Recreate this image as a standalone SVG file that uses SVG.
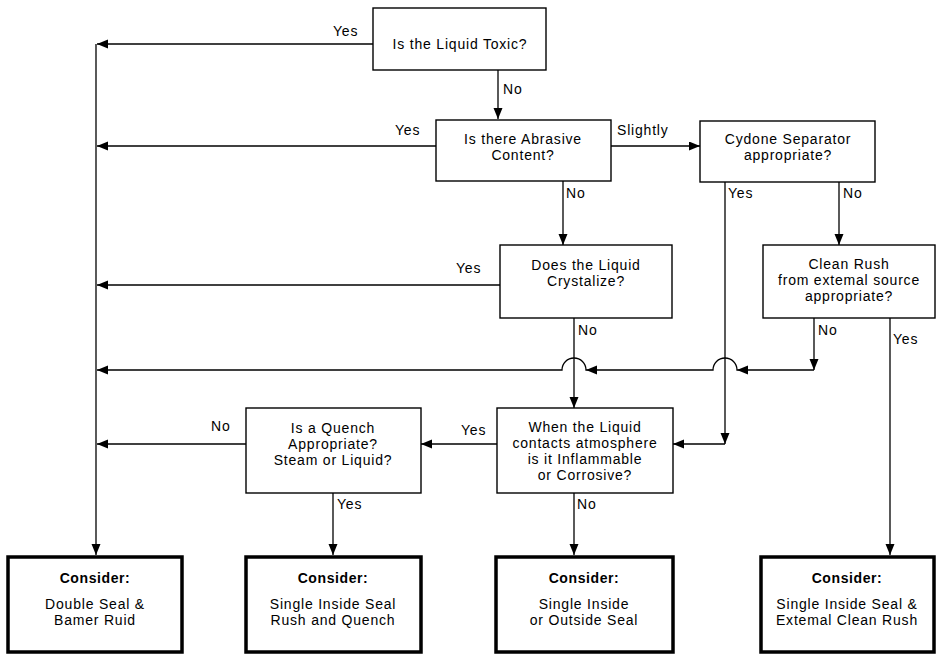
<svg xmlns="http://www.w3.org/2000/svg" width="941" height="656" viewBox="0 0 941 656">
<style>
  .box{fill:#fff;stroke:#000;stroke-width:1.4}
  .end{fill:#fff;stroke:#000;stroke-width:3.5}
  .t{font-family:"Liberation Sans",Arial,sans-serif;font-size:14px;fill:#000;text-anchor:middle;letter-spacing:0.8px}
  .b{font-weight:bold;letter-spacing:0.6px}
  .lbl{font-family:"Liberation Sans",Arial,sans-serif;font-size:14px;fill:#000;letter-spacing:0.8px}
  .c{fill:none;stroke:#000;stroke-width:1.3}
  .ah{fill:#000}
</style>
<defs>
  <marker id="arr" markerUnits="userSpaceOnUse" markerWidth="12" markerHeight="10" refX="11" refY="4.5" orient="auto">
    <path d="M0,0 L11,4.5 L0,9 Z" fill="#000"/>
  </marker>
</defs>
<rect width="941" height="656" fill="#fff"/>
<g id="connectors">
  <path class="c" d="M373,44 H97" marker-end="url(#arr)"/>
  <path class="c" d="M96,44 V555" marker-end="url(#arr)"/>
  <path class="c" d="M498,70 V119" marker-end="url(#arr)"/>
  <path class="c" d="M436,146 H97" marker-end="url(#arr)"/>
  <path class="c" d="M611,146 H700" marker-end="url(#arr)"/>
  <path class="c" d="M563,181 V245" marker-end="url(#arr)"/>
  <path class="c" d="M725,182 V444" marker-end="url(#arr)"/>
  <path class="c" d="M725,444 H673" marker-end="url(#arr)"/>
  <path class="c" d="M839,182 V245" marker-end="url(#arr)"/>
  <path class="c" d="M500,285 H97" marker-end="url(#arr)"/>
  <path class="c" d="M574,318 V408" marker-end="url(#arr)"/>
  <path class="c" d="M814,318 V370" marker-end="url(#arr)"/>
  <path class="c" d="M814,370 H737 A12,12 0 0 0 713,370 H586 A12,12 0 0 0 562,370 H97" marker-end="url(#arr)"/>
  <path class="ah" d="M737,370 L748,365.5 L748,374.5 Z"/>
  <path class="ah" d="M586,370 L597,365.5 L597,374.5 Z"/>
  <path class="c" d="M890,318 V555" marker-end="url(#arr)"/>
  <path class="c" d="M497,444 H421" marker-end="url(#arr)"/>
  <path class="c" d="M246,444 H97" marker-end="url(#arr)"/>
  <path class="c" d="M333,493 V555" marker-end="url(#arr)"/>
  <path class="c" d="M574,493 V555" marker-end="url(#arr)"/>
</g>
<g id="labels">
  <text class="lbl" x="333" y="36">Yes</text>
  <text class="lbl" x="503" y="94">No</text>
  <text class="lbl" x="395" y="135">Yes</text>
  <text class="lbl" x="617" y="135">Slightly</text>
  <text class="lbl" x="566" y="198">No</text>
  <text class="lbl" x="728" y="198">Yes</text>
  <text class="lbl" x="843" y="198">No</text>
  <text class="lbl" x="456" y="273">Yes</text>
  <text class="lbl" x="578" y="335">No</text>
  <text class="lbl" x="818" y="335">No</text>
  <text class="lbl" x="893" y="344">Yes</text>
  <text class="lbl" x="211" y="431">No</text>
  <text class="lbl" x="461" y="435">Yes</text>
  <text class="lbl" x="337" y="509">Yes</text>
  <text class="lbl" x="577" y="509">No</text>
</g>
<g id="toxic">
  <rect class="box" x="373" y="8" width="173" height="62"/>
  <text class="t" x="460" y="49">Is the Liquid Toxic?</text>
</g>
<g id="abrasive">
  <rect class="box" x="436" y="120" width="175" height="61"/>
  <text class="t" x="523" y="144">Is there Abrasive</text>
  <text class="t" x="523" y="160">Content?</text>
</g>
<g id="cyclone">
  <rect class="box" x="700" y="121" width="175" height="61"/>
  <text class="t" x="788" y="144">Cydone Separator</text>
  <text class="t" x="788" y="160">appropriate?</text>
</g>
<g id="crystalize">
  <rect class="box" x="500" y="245" width="172" height="73"/>
  <text class="t" x="586" y="270">Does the Liquid</text>
  <text class="t" x="586" y="286">Crystalize?</text>
</g>
<g id="flush">
  <rect class="box" x="763" y="245" width="172" height="73"/>
  <text class="t" x="849" y="269">Clean Rush</text>
  <text class="t" x="849" y="285">from extemal source</text>
  <text class="t" x="849" y="301">appropriate?</text>
</g>
<g id="quench">
  <rect class="box" x="246" y="408" width="175" height="85"/>
  <text class="t" x="333" y="433">Is a Quench</text>
  <text class="t" x="333" y="449">Appropriate?</text>
  <text class="t" x="333" y="465">Steam or Liquid?</text>
</g>
<g id="atmosphere">
  <rect class="box" x="497" y="408" width="176" height="85"/>
  <text class="t" x="585" y="432">When the Liquid</text>
  <text class="t" x="585" y="448">contacts atmosphere</text>
  <text class="t" x="585" y="464">is it Inflammable</text>
  <text class="t" x="585" y="480">or Corrosive?</text>
</g>
<g id="double-seal">
  <rect class="end" x="8" y="557" width="174" height="95"/>
  <text class="t b" x="95" y="583">Consider:</text>
  <text class="t" x="95" y="609">Double Seal &amp;</text>
  <text class="t" x="95" y="625">Bamer Ruid</text>
</g>
<g id="single-quench">
  <rect class="end" x="246" y="557" width="175" height="95"/>
  <text class="t b" x="333" y="583">Consider:</text>
  <text class="t" x="333" y="609">Single Inside Seal</text>
  <text class="t" x="333" y="625">Rush and Quench</text>
</g>
<g id="single-outside">
  <rect class="end" x="496" y="557" width="177" height="95"/>
  <text class="t b" x="584" y="583">Consider:</text>
  <text class="t" x="584" y="609">Single Inside</text>
  <text class="t" x="584" y="625">or Outside Seal</text>
</g>
<g id="single-external">
  <rect class="end" x="761" y="557" width="173" height="95"/>
  <text class="t b" x="847" y="583">Consider:</text>
  <text class="t" x="847" y="609">Single Inside Seal &amp;</text>
  <text class="t" x="847" y="625">Extemal Clean Rush</text>
</g>
</svg>
